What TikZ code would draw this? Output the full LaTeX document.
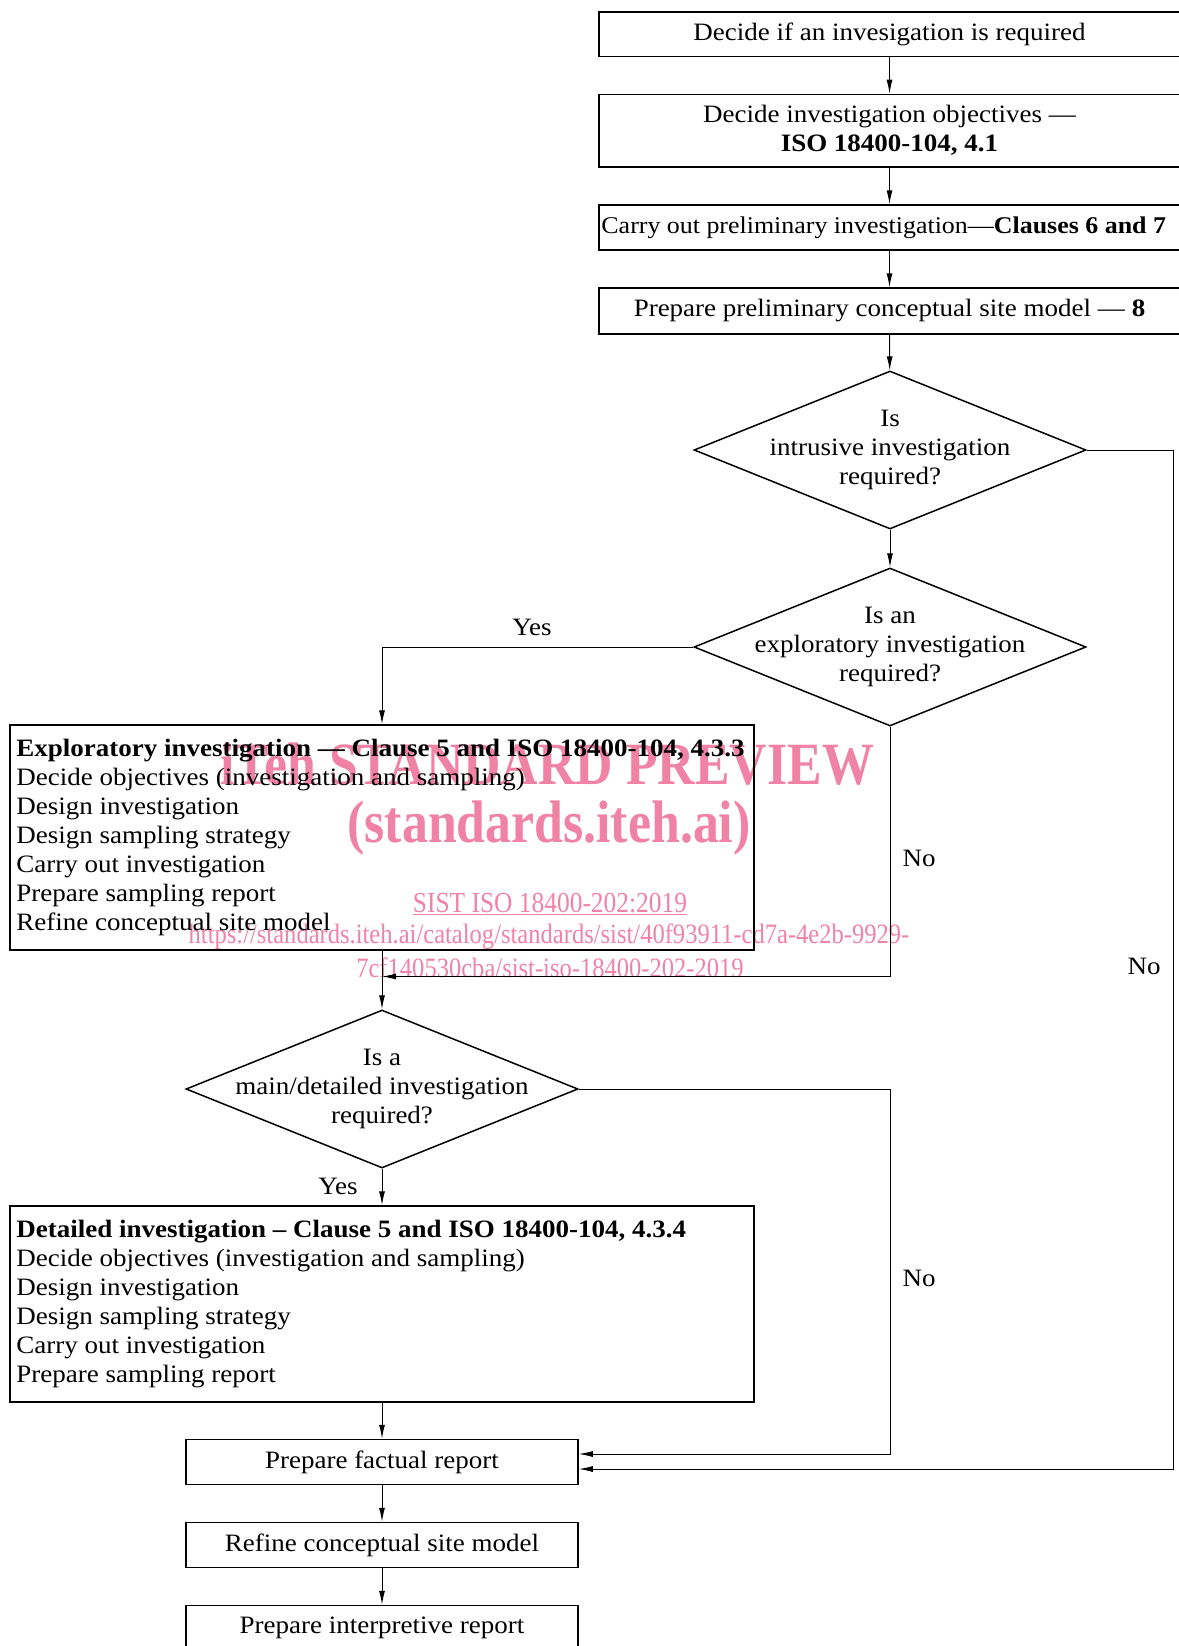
\documentclass[tikz,border=0pt]{standalone}
\usepackage{fontspec}
\setmainfont{Liberation Serif}[FakeStretch=1.08]
\newfontfamily\wmfont{Liberation Serif}[FakeStretch=0.864]
\newfontfamily\wmsmall{Liberation Serif}[FakeStretch=0.877]
\usetikzlibrary{arrows.meta,shapes.geometric}
\definecolor{wmpink}{RGB}{240,130,165}
\begin{document}
\begin{tikzpicture}[x=1pt,y=-1pt,
  txt/.style={font=\fontsize{25}{29}\selectfont},
  box/.style={draw,line width=1.5pt,rectangle,inner sep=0pt,txt},
  dia/.style={draw,line width=1.5pt,diamond,inner sep=0pt,minimum width=392pt,minimum height=158pt},
  diatext/.style={txt,align=center},
  conn/.style={line width=1pt,-{Latex[length=14pt,width=6pt]}},
  lbl/.style={txt},
  wm/.style={text=wmpink}]
\useasboundingbox (0,0) rectangle (1178,1646);
% watermark
\node[wm,font=\wmfont\bfseries\fontsize{60}{60}\selectfont] (wm1) at (547,764) {iTeh STANDARD PREVIEW};
\node[wm,font=\wmfont\bfseries\fontsize{60}{60}\selectfont] (wm2) at (549,828) {(standards.iteh.ai)};
\node[wm,font=\wmsmall\fontsize{29}{29}\selectfont] (wm3) at (550,904) {\underline{SIST ISO 18400-202:2019}};
\node[wm,font=\wmsmall\fontsize{28}{28}\selectfont] (wm4) at (549,937) {https://standards.iteh.ai/catalog/standards/sist/40f93911-cd7a-4e2b-9929-};
\node[wm,font=\wmsmall\fontsize{28}{28}\selectfont] (wm5) at (550,968) {7cf140530cba/sist-iso-18400-202-2019};
% top column
\node[box,minimum width=581pt,minimum height=44.7pt] (b1) at (889.5,34.3) {Decide if an invesigation is required};
\node[box,minimum width=581pt,minimum height=72.5pt,align=center] (b2) at (889.5,130.7) {Decide investigation objectives —\\\textbf{ISO 18400-104, 4.1}};
\node[box,minimum width=581pt,minimum height=45pt] (b3) at (889.5,227.5) {};
\node[anchor=west,inner sep=0pt,font=\fontsize{24}{29}\selectfont] (b3t) at ([xshift=3pt]b3.west) {Carry out preliminary investigation—\textbf{Clauses 6 and 7}};
\node[box,minimum width=581pt,minimum height=46pt] (b4) at (889.5,311) {Prepare preliminary conceptual site model — \textbf{8}};
\node[dia] (d1) at (890,450) {};
\node[diatext] (d1t) at (d1.center) {Is\\intrusive investigation\\required?};
\node[dia] (d2) at (890,647) {};
\node[diatext] (d2t) at (d2.center) {Is an\\exploratory investigation\\required?};
% exploratory
\node[box,minimum width=744pt,minimum height=225pt] (exp) at (382,837.5) {};
\node[txt,anchor=west,align=left,inner sep=0pt] (expt) at ([xshift=7pt]exp.west) {\textbf{Exploratory investigation — Clause 5 and ISO 18400-104, 4.3.3}\\
Decide objectives (investigation and sampling)\\
Design investigation\\
Design sampling strategy\\
Carry out investigation\\
Prepare sampling report\\
Refine conceptual site model};
\node[dia] (d3) at (382,1089) {};
\node[diatext] (d3t) at (d3.center) {Is a\\main/detailed investigation\\required?};
% detailed
\node[box,minimum width=744pt,minimum height=196pt] (det) at (382,1304) {};
\node[txt,anchor=west,align=left,inner sep=0pt] (dett) at ([xshift=7pt]det.west) {\textbf{Detailed investigation – Clause 5 and ISO 18400-104, 4.3.4}\\
Decide objectives (investigation and sampling)\\
Design investigation\\
Design sampling strategy\\
Carry out investigation\\
Prepare sampling report};
\node[box,minimum width=392pt,minimum height=45pt] (fact) at (382,1462) {Prepare factual report};
\node[box,minimum width=392pt,minimum height=45pt] (refine) at (382,1545) {Refine conceptual site model};
\node[box,minimum width=392pt,minimum height=45pt] (interp) at (382,1628) {Prepare interpretive report};
% coordinates
\coordinate (j1) at (382,976.5);
\coordinate (c2) at (890,1454);
\coordinate (c3) at (1173,1469);
% connectors
\draw[conn] (b1) -- (b2);
\draw[conn] (b2) -- (b3);
\draw[conn] (b3) -- (b4);
\draw[conn] (b4) -- (d1);
\draw[conn] (d1) -- (d2);
\draw[conn] (d2.west) -| (exp.north);
\draw[conn] (d2.south) |- (j1);
\draw[conn] (exp.south) -- (d3.north);
\draw[conn] (d3.south) -- (det.north);
\draw[conn] (d3.east) -| (c2) -- (c2 -| fact.east);
\draw[conn] (d1.east) -| (c3) -- (c3 -| fact.east);
\draw[conn] (det.south) -- (fact.north);
\draw[conn] (fact.south) -- (refine.north);
\draw[conn] (refine.south) -- (interp.north);
% labels
\node[lbl] (y1) at (532,627) {Yes};
\node[lbl] (n1) at (919,858) {No};
\node[lbl] (y2) at (338,1186) {Yes};
\node[lbl] (n2) at (919,1278) {No};
\node[lbl] (n3) at (1144,966) {No};
\end{tikzpicture}
\end{document}
